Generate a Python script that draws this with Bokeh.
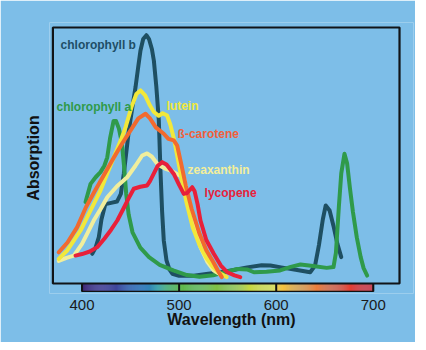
import numpy as np
from bokeh.plotting import figure
from bokeh.models import FixedTicker, ColumnDataSource
from bokeh.core.properties import value
from bokeh.embed import file_html
from bokeh.resources import INLINE

# ---------------- data ----------------
chl_b_x = [410.5, 414, 417.3, 420, 424, 430, 436, 440, 443, 448.2, 451.5, 455.1, 458, 460.2, 463, 466.3,
           469, 472, 474, 476.5, 479.1, 480.8, 482.5, 484.2, 487, 490, 493, 500, 515, 530, 543, 555, 570,
           585, 594, 605, 620, 635, 640, 644, 648, 651, 655, 659, 663, 667]
chl_b_y = [11.6, 14, 18.1, 25, 31, 31.5, 32, 35, 42.8, 59.8, 68, 76.7, 85, 91, 95.5, 97,
           95.5, 91.5, 87, 77, 63.7, 44, 28, 16.8, 9, 5.5, 3.8, 3, 3, 3.8, 4.4, 5.2, 6.3,
           7.1, 7, 6.3, 5.4, 4.4, 7, 15, 25, 30.5, 28.5, 22.5, 15.5, 10.3]

chl_a_x = [403.6, 408.8, 414, 419, 423, 426, 429, 432.5, 435, 438, 441, 443.5, 445.5, 448, 452, 460, 469,
           480, 494, 508, 521, 535, 548, 560, 570, 577, 590, 604, 615, 625, 638, 652, 659, 661.5,
           664.5, 667, 670.3, 673, 676, 679, 683, 687, 690, 693.7]
chl_a_y = [31.8, 38.9, 41.5, 43.5, 46, 49.3, 57, 63.5, 63.5, 60.5, 55, 45, 35, 27, 20, 14, 10.3,
           7.3, 5.1, 3.3, 2.6, 3.2, 4.5, 5.7, 5.5, 4.4, 4.6, 5.1, 6.5, 7.4, 6.8, 6.1, 6.4, 12,
           29.8, 43, 50.7, 47, 37, 28, 18, 10.3, 6, 3.1]

lutein_x = [376, 385, 392, 398.5, 408, 419, 426, 432.7, 440, 444.8, 451, 456, 460.2, 465, 470, 474,
            479, 483, 487.7, 491, 495, 499, 503, 508, 514, 521, 528, 535, 542, 549]
lutein_y = [9.6, 13, 17, 20.7, 28, 36.3, 43, 49.3, 56, 61, 69, 74, 75.4, 73.5, 69.5, 67,
            65.5, 66.5, 65.6, 62, 56, 48, 40, 31, 22, 15, 10, 6.4, 4, 2.5]

bcar_x = [376, 385, 395, 404, 413, 422, 431, 441, 452, 458, 465.4, 470, 476, 484.2, 489, 494.5, 498,
          502, 507, 513, 521, 528, 535, 540, 544]
bcar_y = [12.2, 16, 22, 29.8, 36, 42, 48, 54.5, 61, 64.5, 66.3, 64.5, 61, 58.5, 56.5, 55.9, 53.9,
          47, 38, 29, 19.4, 13, 8.5, 5, 2.5]

zea_x = [376, 384, 391.6, 400, 406, 412, 419, 426, 436, 446.5, 455, 462, 467, 472, 478, 485, 492,
         499, 504.8, 508, 511.7, 517, 522, 529, 535.7, 544.4]
zea_y = [8.8, 10, 10.9, 15.5, 20, 24.6, 29, 33.7, 38, 41.5, 46, 50, 50.8, 49.5, 46.5, 45, 44,
         42.5, 41.5, 36, 29.8, 21, 14.2, 8.5, 5.1, 3.1]

lyc_x = [393.3, 400, 408, 415.7, 423, 430, 436.3, 443, 449, 453.3, 460, 467.1, 470, 474, 478, 482.6,
         487, 491, 494.5, 500, 504.8, 508, 513.5, 516, 519, 522, 528, 535.7, 543, 549.5, 557, 563]
lyc_y = [10.9, 11.5, 12.5, 14.2, 17.5, 21, 24.6, 29.5, 34, 37, 37.8, 38.3, 40, 43, 46, 47.4,
         46.5, 44.5, 42.8, 38.5, 35, 35.3, 37.6, 36, 31, 24.6, 17, 11.6, 7, 4.4, 3.2, 2.5]

series_names = ["chlorophyll b", "chlorophyll a", "zeaxanthin", "lutein", "ß-carotene", "lycopene"]
series_x = [chl_b_x, chl_a_x, zea_x, lutein_x, bcar_x, lyc_x]
series_y = [chl_b_y, chl_a_y, zea_y, lutein_y, bcar_y, lyc_y]
series_colors = ["#1E4F62", "#2F9A4A", "#F1EE9C", "#F2E83A", "#F26A2E", "#E8203A"]
label_colors = ["#1F4E66", "#2F9A4A", "#F3EE9A", "#F2E83A", "#F0603A", "#E8203A"]
# label anchors (wavelength, absorption)
label_x = [377.9, 373.7, 508.7, 487.0, 498.4, 526.2]
label_y = [93.0, 69.1, 44.5, 69.5, 58.2, 35.2]

tick_values = [400, 500, 600, 700]

# visible spectrum colour stops
spec_wl = [400, 420, 440, 455, 468, 478, 488, 498, 520, 545, 565, 585, 599.9, 600, 620, 640, 660, 680, 700]
spec_col = ["#3E2372", "#4A2F88", "#3B4A9F", "#2F63AE", "#2F80B8", "#36A0A2", "#4CB062", "#5BB84A",
            "#6DBE45", "#88C440", "#B5D23E", "#E6E23C", "#F3E846", "#FBD13E", "#F5A838", "#F0803A",
            "#EA5A34", "#E5352E", "#E02630"]

BG = "#7DBEE8"
X_MIN, X_MAX = 370.0, 727.0
Y_MIN, Y_MAX = 0.0, 100.0
BAR_H = 3.1

# ---------------- figure ----------------
p = figure(width=415, height=342, x_range=(366.5, 741.4), y_range=(-3.91, 101.95),
           output_backend="svg", toolbar_location=None,
           min_border_left=49, min_border_right=2, min_border_top=22, min_border_bottom=49)
p.background_fill_color = BG
p.border_fill_color = BG
p.outline_line_color = None
p.grid.visible = False

# spectrum bar
def hex2rgb(h):
    return np.array([int(h[i:i + 2], 16) for i in (1, 3, 5)], dtype=float)

stops = np.array([hex2rgb(c) for c in spec_col])
wl = np.arange(400, 700, 1.0)
cols = []
for w in wl + 0.5:
    r = np.interp(w, spec_wl, stops[:, 0]); g = np.interp(w, spec_wl, stops[:, 1]); b = np.interp(w, spec_wl, stops[:, 2])
    cols.append("#%02x%02x%02x" % (int(r), int(g), int(b)))
p.quad(left=wl, right=wl + 1.0, bottom=-BAR_H, top=0, fill_color=cols, line_color=None)
p.quad(left=[400], right=[700], bottom=[-BAR_H], top=[0], fill_color=None, line_color="#111111", line_width=1.2)
p.segment(x0=tick_values, x1=tick_values, y0=[-BAR_H] * 4, y1=[0] * 4, line_color="#111111", line_width=2)

# frame box
p.quad(left=[X_MIN], right=[X_MAX], bottom=[Y_MIN], top=[Y_MAX], fill_color=None,
       line_color="#111418", line_width=2.2)

# curves
for xs, ys, c in zip(series_x, series_y, series_colors):
    p.line(xs, ys, line_color=c, line_width=4, line_join="round", line_cap="round")

# labels
src = ColumnDataSource(dict(x=label_x, y=label_y, t=series_names, c=label_colors))
p.text(x="x", y="y", text="t", text_color="c", source=src, text_font=value("Liberation Sans"),
       text_font_style="bold", text_font_size="12px", text_baseline="middle", text_align="left")

# axes
xa = p.xaxis[0]
xa.ticker = FixedTicker(ticks=tick_values)
xa.axis_line_color = None
xa.major_tick_line_color = None
xa.minor_tick_line_color = None
xa.major_label_text_font = "Liberation Sans"
xa.major_label_text_font_size = "15px"
xa.major_label_text_color = "#1a1a1a"
xa.major_label_standoff = 0
xa.axis_label = "Wavelength (nm)"
xa.axis_label_text_font = "Liberation Sans"
xa.axis_label_text_font_style = "bold"
xa.axis_label_text_font_size = "16px"
xa.axis_label_text_color = "#111111"
xa.axis_label_standoff = -2

ya = p.yaxis[0]
ya.ticker = FixedTicker(ticks=[])
ya.axis_line_color = None
ya.major_tick_line_color = None
ya.minor_tick_line_color = None
ya.major_label_text_font_size = "0px"
ya.axis_label = "Absorption"
ya.axis_label_text_font = "Liberation Sans"
ya.axis_label_text_font_style = "bold"
ya.axis_label_text_font_size = "16px"
ya.axis_label_text_color = "#111111"
ya.axis_label_standoff = 8

open("out.html", "w").write(file_html(p, INLINE))
